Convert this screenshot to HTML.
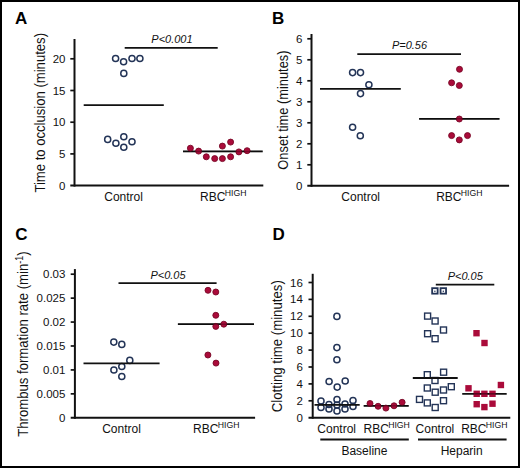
<!DOCTYPE html>
<html><head><meta charset="utf-8"><style>
html,body{margin:0;padding:0;background:#fff;}
body{width:520px;height:468px;overflow:hidden;}
svg{display:block;}
text{font-family:"Liberation Sans",sans-serif;fill:#111;}
.pl{font-size:17px;font-weight:bold;fill:#000;}
.tk{font-size:11.5px;}
.yl{font-size:13px;}
.xl{font-size:12px;}
.sup{font-size:8.7px;}
.sup2{font-size:9px;}
.pv{font-size:11px;font-style:italic;}
</style></head><body>
<svg width="520" height="468" viewBox="0 0 520 468">
<rect x="0" y="0" width="520" height="468" fill="#fff"/>
<text x="15" y="23.8" class="pl">A</text>
<line x1="74.5" y1="39" x2="74.5" y2="186.6" stroke="#111" stroke-width="2"/>
<line x1="70.3" y1="185.6" x2="263.3" y2="185.6" stroke="#111" stroke-width="2"/>
<line x1="70.3" y1="153.9" x2="74.5" y2="153.9" stroke="#111" stroke-width="1.7"/>
<text x="65.5" y="157.9" text-anchor="end" class="tk">5</text>
<line x1="70.3" y1="122.2" x2="74.5" y2="122.2" stroke="#111" stroke-width="1.7"/>
<text x="65.5" y="126.2" text-anchor="end" class="tk">10</text>
<line x1="70.3" y1="90.5" x2="74.5" y2="90.5" stroke="#111" stroke-width="1.7"/>
<text x="65.5" y="94.5" text-anchor="end" class="tk">15</text>
<line x1="70.3" y1="58.8" x2="74.5" y2="58.8" stroke="#111" stroke-width="1.7"/>
<text x="65.5" y="62.8" text-anchor="end" class="tk">20</text>
<text x="65.5" y="189.6" text-anchor="end" class="tk">0</text>
<text transform="translate(44.6,112.8) rotate(-90) scale(1,1.17)" text-anchor="middle" class="yl" style="font-size:13.1px">Time to occlusion (minutes)</text>
<circle cx="115.6" cy="58.5" r="3.05" fill="none" stroke="#233457" stroke-width="1.5"/>
<circle cx="123.6" cy="61.8" r="3.05" fill="none" stroke="#233457" stroke-width="1.5"/>
<circle cx="132" cy="58.5" r="3.05" fill="none" stroke="#233457" stroke-width="1.5"/>
<circle cx="139.9" cy="58.5" r="3.05" fill="none" stroke="#233457" stroke-width="1.5"/>
<circle cx="123.8" cy="73.4" r="3.05" fill="none" stroke="#233457" stroke-width="1.5"/>
<circle cx="107.7" cy="139.4" r="3.05" fill="none" stroke="#233457" stroke-width="1.5"/>
<circle cx="115.9" cy="143.3" r="3.05" fill="none" stroke="#233457" stroke-width="1.5"/>
<circle cx="123.8" cy="136.7" r="3.05" fill="none" stroke="#233457" stroke-width="1.5"/>
<circle cx="123.8" cy="147.3" r="3.05" fill="none" stroke="#233457" stroke-width="1.5"/>
<circle cx="132" cy="141.8" r="3.05" fill="none" stroke="#233457" stroke-width="1.5"/>
<line x1="83.7" y1="105.1" x2="163.8" y2="105.1" stroke="#111" stroke-width="1.8"/>
<line x1="183" y1="151.4" x2="262.7" y2="151.4" stroke="#111" stroke-width="1.8"/>
<circle cx="190.4" cy="148.2" r="3.0" fill="#aa0b3a" stroke="#780826" stroke-width="0.9"/>
<circle cx="198.6" cy="151.1" r="3.0" fill="#aa0b3a" stroke="#780826" stroke-width="0.9"/>
<circle cx="206.3" cy="156.8" r="3.0" fill="#aa0b3a" stroke="#780826" stroke-width="0.9"/>
<circle cx="214.7" cy="158.6" r="3.0" fill="#aa0b3a" stroke="#780826" stroke-width="0.9"/>
<circle cx="222.4" cy="158.6" r="3.0" fill="#aa0b3a" stroke="#780826" stroke-width="0.9"/>
<circle cx="222.4" cy="146.1" r="3.0" fill="#aa0b3a" stroke="#780826" stroke-width="0.9"/>
<circle cx="230.6" cy="142.1" r="3.0" fill="#aa0b3a" stroke="#780826" stroke-width="0.9"/>
<circle cx="230.6" cy="156.8" r="3.0" fill="#aa0b3a" stroke="#780826" stroke-width="0.9"/>
<circle cx="238.9" cy="151.9" r="3.0" fill="#aa0b3a" stroke="#780826" stroke-width="0.9"/>
<circle cx="247.1" cy="150.7" r="3.0" fill="#aa0b3a" stroke="#780826" stroke-width="0.9"/>
<line x1="124.7" y1="47.8" x2="217.7" y2="47.8" stroke="#111" stroke-width="1.8"/>
<text x="151.3" y="43.1" class="pv">P&lt;0.001</text>
<text x="123.6" y="200.8" text-anchor="middle" class="xl">Control</text>
<text x="200.1" y="200.6" class="xl">RBC<tspan class="sup" dx="-0.7" dy="-4.5">HIGH</tspan></text>
<text x="271.9" y="24" class="pl">B</text>
<line x1="311.5" y1="34" x2="311.5" y2="186.8" stroke="#111" stroke-width="2"/>
<line x1="307.3" y1="185.8" x2="509.1" y2="185.8" stroke="#111" stroke-width="2"/>
<line x1="307.3" y1="38.8" x2="311.5" y2="38.8" stroke="#111" stroke-width="1.7"/>
<text x="302.5" y="42.8" text-anchor="end" class="tk">6</text>
<line x1="307.3" y1="59.8" x2="311.5" y2="59.8" stroke="#111" stroke-width="1.7"/>
<text x="302.5" y="63.8" text-anchor="end" class="tk">5</text>
<line x1="307.3" y1="80.8" x2="311.5" y2="80.8" stroke="#111" stroke-width="1.7"/>
<text x="302.5" y="84.8" text-anchor="end" class="tk">4</text>
<line x1="307.3" y1="101.8" x2="311.5" y2="101.8" stroke="#111" stroke-width="1.7"/>
<text x="302.5" y="105.8" text-anchor="end" class="tk">3</text>
<line x1="307.3" y1="122.8" x2="311.5" y2="122.8" stroke="#111" stroke-width="1.7"/>
<text x="302.5" y="126.8" text-anchor="end" class="tk">3</text>
<line x1="307.3" y1="143.8" x2="311.5" y2="143.8" stroke="#111" stroke-width="1.7"/>
<text x="302.5" y="147.8" text-anchor="end" class="tk">2</text>
<line x1="307.3" y1="164.8" x2="311.5" y2="164.8" stroke="#111" stroke-width="1.7"/>
<text x="302.5" y="168.8" text-anchor="end" class="tk">1</text>
<text x="302.5" y="189.8" text-anchor="end" class="tk">0</text>
<text transform="translate(288,110.1) rotate(-90) scale(1,1.17)" text-anchor="middle" class="yl" style="font-size:12.85px">Onset time (minutes)</text>
<circle cx="352.6" cy="72.6" r="3.05" fill="none" stroke="#233457" stroke-width="1.5"/>
<circle cx="360.5" cy="72.6" r="3.05" fill="none" stroke="#233457" stroke-width="1.5"/>
<circle cx="368.9" cy="84.8" r="3.05" fill="none" stroke="#233457" stroke-width="1.5"/>
<circle cx="360.5" cy="93.6" r="3.05" fill="none" stroke="#233457" stroke-width="1.5"/>
<circle cx="352.6" cy="127.2" r="3.05" fill="none" stroke="#233457" stroke-width="1.5"/>
<circle cx="360.3" cy="135.7" r="3.05" fill="none" stroke="#233457" stroke-width="1.5"/>
<line x1="320" y1="88.9" x2="400.8" y2="88.9" stroke="#111" stroke-width="1.8"/>
<line x1="419.1" y1="118.8" x2="499.5" y2="118.8" stroke="#111" stroke-width="1.8"/>
<circle cx="459.5" cy="69.3" r="3.0" fill="#aa0b3a" stroke="#780826" stroke-width="0.9"/>
<circle cx="451.6" cy="82.8" r="3.0" fill="#aa0b3a" stroke="#780826" stroke-width="0.9"/>
<circle cx="459.3" cy="85.5" r="3.0" fill="#aa0b3a" stroke="#780826" stroke-width="0.9"/>
<circle cx="459.3" cy="119" r="3.0" fill="#aa0b3a" stroke="#780826" stroke-width="0.9"/>
<circle cx="451.6" cy="135.6" r="3.0" fill="#aa0b3a" stroke="#780826" stroke-width="0.9"/>
<circle cx="459.3" cy="139.9" r="3.0" fill="#aa0b3a" stroke="#780826" stroke-width="0.9"/>
<circle cx="467.5" cy="135.6" r="3.0" fill="#aa0b3a" stroke="#780826" stroke-width="0.9"/>
<line x1="357.3" y1="54.1" x2="461" y2="54.1" stroke="#111" stroke-width="1.8"/>
<text x="391.9" y="48.9" class="pv">P=0.56</text>
<text x="360.7" y="200.9" text-anchor="middle" class="xl">Control</text>
<text x="436.2" y="200.7" class="xl">RBC<tspan class="sup" dx="-0.7" dy="-4.5">HIGH</tspan></text>
<text x="15.2" y="240" class="pl">C</text>
<line x1="74.9" y1="269.1" x2="74.9" y2="418.8" stroke="#111" stroke-width="2"/>
<line x1="70.7" y1="417.8" x2="255.1" y2="417.8" stroke="#111" stroke-width="2"/>
<line x1="70.7" y1="274.2" x2="74.9" y2="274.2" stroke="#111" stroke-width="1.7"/>
<text x="65.4" y="278.2" text-anchor="end" class="tk">0.03</text>
<line x1="70.7" y1="298.13" x2="74.9" y2="298.13" stroke="#111" stroke-width="1.7"/>
<text x="65.4" y="302.13" text-anchor="end" class="tk">0.025</text>
<line x1="70.7" y1="322.06" x2="74.9" y2="322.06" stroke="#111" stroke-width="1.7"/>
<text x="65.4" y="326.06" text-anchor="end" class="tk">0.02</text>
<line x1="70.7" y1="345.99" x2="74.9" y2="345.99" stroke="#111" stroke-width="1.7"/>
<text x="65.4" y="349.99" text-anchor="end" class="tk">0.015</text>
<line x1="70.7" y1="369.91999999999996" x2="74.9" y2="369.91999999999996" stroke="#111" stroke-width="1.7"/>
<text x="65.4" y="373.91999999999996" text-anchor="end" class="tk">0.01</text>
<line x1="70.7" y1="393.85" x2="74.9" y2="393.85" stroke="#111" stroke-width="1.7"/>
<text x="65.4" y="397.85" text-anchor="end" class="tk">0.005</text>
<text x="65.4" y="421.8" text-anchor="end" class="tk">0</text>
<text transform="translate(28.1,344.1) rotate(-90) scale(1,1.17)" text-anchor="middle" class="yl" style="font-size:13.15px">Thrombus formation rate (min<tspan class="sup2" dy="-4.5">-1</tspan><tspan dy="4.5">)</tspan></text>
<circle cx="113.8" cy="342.1" r="3.05" fill="none" stroke="#233457" stroke-width="1.5"/>
<circle cx="121.8" cy="344.4" r="3.05" fill="none" stroke="#233457" stroke-width="1.5"/>
<circle cx="129.8" cy="360.4" r="3.05" fill="none" stroke="#233457" stroke-width="1.5"/>
<circle cx="121.8" cy="366.5" r="3.05" fill="none" stroke="#233457" stroke-width="1.5"/>
<circle cx="113.9" cy="370" r="3.05" fill="none" stroke="#233457" stroke-width="1.5"/>
<circle cx="121.8" cy="376.5" r="3.05" fill="none" stroke="#233457" stroke-width="1.5"/>
<line x1="83.5" y1="363.3" x2="159.6" y2="363.3" stroke="#111" stroke-width="1.8"/>
<line x1="177.9" y1="324.2" x2="254" y2="324.2" stroke="#111" stroke-width="1.8"/>
<circle cx="208" cy="290.3" r="3.0" fill="#aa0b3a" stroke="#780826" stroke-width="0.9"/>
<circle cx="215.8" cy="292" r="3.0" fill="#aa0b3a" stroke="#780826" stroke-width="0.9"/>
<circle cx="215.8" cy="315.3" r="3.0" fill="#aa0b3a" stroke="#780826" stroke-width="0.9"/>
<circle cx="215.8" cy="326.4" r="3.0" fill="#aa0b3a" stroke="#780826" stroke-width="0.9"/>
<circle cx="223.8" cy="324.2" r="3.0" fill="#aa0b3a" stroke="#780826" stroke-width="0.9"/>
<circle cx="207.9" cy="355" r="3.0" fill="#aa0b3a" stroke="#780826" stroke-width="0.9"/>
<circle cx="216" cy="363.1" r="3.0" fill="#aa0b3a" stroke="#780826" stroke-width="0.9"/>
<line x1="118.5" y1="283.1" x2="216.6" y2="283.1" stroke="#111" stroke-width="1.8"/>
<text x="150.4" y="278.8" class="pv">P&lt;0.05</text>
<text x="121.5" y="432.6" text-anchor="middle" class="xl">Control</text>
<text x="193.1" y="432.7" class="xl">RBC<tspan class="sup" dx="-0.7" dy="-4.5">HIGH</tspan></text>
<text x="272.4" y="239.6" class="pl">D</text>
<line x1="312.7" y1="273.8" x2="312.7" y2="418.7" stroke="#111" stroke-width="2"/>
<line x1="308.5" y1="417.7" x2="510.3" y2="417.7" stroke="#111" stroke-width="2"/>
<line x1="308.5" y1="400.8" x2="312.7" y2="400.8" stroke="#111" stroke-width="1.7"/>
<text x="302.9" y="404.8" text-anchor="end" class="tk">2</text>
<line x1="308.5" y1="383.9" x2="312.7" y2="383.9" stroke="#111" stroke-width="1.7"/>
<text x="302.9" y="387.9" text-anchor="end" class="tk">4</text>
<line x1="308.5" y1="367.0" x2="312.7" y2="367.0" stroke="#111" stroke-width="1.7"/>
<text x="302.9" y="371.0" text-anchor="end" class="tk">6</text>
<line x1="308.5" y1="350.1" x2="312.7" y2="350.1" stroke="#111" stroke-width="1.7"/>
<text x="302.9" y="354.1" text-anchor="end" class="tk">8</text>
<line x1="308.5" y1="333.2" x2="312.7" y2="333.2" stroke="#111" stroke-width="1.7"/>
<text x="302.9" y="337.2" text-anchor="end" class="tk">10</text>
<line x1="308.5" y1="316.3" x2="312.7" y2="316.3" stroke="#111" stroke-width="1.7"/>
<text x="302.9" y="320.3" text-anchor="end" class="tk">12</text>
<line x1="308.5" y1="299.4" x2="312.7" y2="299.4" stroke="#111" stroke-width="1.7"/>
<text x="302.9" y="303.4" text-anchor="end" class="tk">14</text>
<line x1="308.5" y1="282.5" x2="312.7" y2="282.5" stroke="#111" stroke-width="1.7"/>
<text x="302.9" y="286.5" text-anchor="end" class="tk">16</text>
<text x="302.9" y="421.7" text-anchor="end" class="tk">0</text>
<text transform="translate(282.4,346.2) rotate(-90) scale(1,1.17)" text-anchor="middle" class="yl" style="font-size:13.2px">Clotting time (minutes)</text>
<circle cx="336.9" cy="316.4" r="3.05" fill="none" stroke="#233457" stroke-width="1.5"/>
<circle cx="336.9" cy="347.6" r="3.05" fill="none" stroke="#233457" stroke-width="1.5"/>
<circle cx="336.9" cy="359.7" r="3.05" fill="none" stroke="#233457" stroke-width="1.5"/>
<circle cx="329.1" cy="381.5" r="3.05" fill="none" stroke="#233457" stroke-width="1.5"/>
<circle cx="337.2" cy="387.1" r="3.05" fill="none" stroke="#233457" stroke-width="1.5"/>
<circle cx="345.2" cy="381" r="3.05" fill="none" stroke="#233457" stroke-width="1.5"/>
<circle cx="321" cy="401" r="3.05" fill="none" stroke="#233457" stroke-width="1.5"/>
<circle cx="321" cy="407.5" r="3.05" fill="none" stroke="#233457" stroke-width="1.5"/>
<circle cx="329" cy="404.5" r="3.05" fill="none" stroke="#233457" stroke-width="1.5"/>
<circle cx="329" cy="409" r="3.05" fill="none" stroke="#233457" stroke-width="1.5"/>
<circle cx="337" cy="399.5" r="3.05" fill="none" stroke="#233457" stroke-width="1.5"/>
<circle cx="337" cy="405" r="3.05" fill="none" stroke="#233457" stroke-width="1.5"/>
<circle cx="337" cy="411" r="3.05" fill="none" stroke="#233457" stroke-width="1.5"/>
<circle cx="345" cy="404" r="3.05" fill="none" stroke="#233457" stroke-width="1.5"/>
<circle cx="345" cy="409" r="3.05" fill="none" stroke="#233457" stroke-width="1.5"/>
<circle cx="353" cy="400.5" r="3.05" fill="none" stroke="#233457" stroke-width="1.5"/>
<circle cx="353" cy="406.5" r="3.05" fill="none" stroke="#233457" stroke-width="1.5"/>
<line x1="314.5" y1="404.8" x2="359.7" y2="404.8" stroke="#111" stroke-width="1.8"/>
<line x1="363.7" y1="405.8" x2="408.7" y2="405.8" stroke="#111" stroke-width="1.8"/>
<circle cx="370" cy="403.5" r="3.0" fill="#aa0b3a" stroke="#780826" stroke-width="0.9"/>
<circle cx="378.1" cy="406.3" r="3.0" fill="#aa0b3a" stroke="#780826" stroke-width="0.9"/>
<circle cx="385.9" cy="408.1" r="3.0" fill="#aa0b3a" stroke="#780826" stroke-width="0.9"/>
<circle cx="394" cy="405.8" r="3.0" fill="#aa0b3a" stroke="#780826" stroke-width="0.9"/>
<circle cx="402.1" cy="402.3" r="3.0" fill="#aa0b3a" stroke="#780826" stroke-width="0.9"/>
<rect x="424.6" y="313.1" width="6.0" height="6.0" fill="none" stroke="#233457" stroke-width="1.4"/>
<rect x="432.1" y="318.0" width="6.0" height="6.0" fill="none" stroke="#233457" stroke-width="1.4"/>
<rect x="440.5" y="327.0" width="6.0" height="6.0" fill="none" stroke="#233457" stroke-width="1.4"/>
<rect x="424.6" y="330.7" width="6.0" height="6.0" fill="none" stroke="#233457" stroke-width="1.4"/>
<rect x="432.1" y="335.7" width="6.0" height="6.0" fill="none" stroke="#233457" stroke-width="1.4"/>
<rect x="440.6" y="369.2" width="6.0" height="6.0" fill="none" stroke="#233457" stroke-width="1.4"/>
<rect x="424.3" y="371.7" width="6.0" height="6.0" fill="none" stroke="#233457" stroke-width="1.4"/>
<rect x="432.0" y="377.5" width="6.0" height="6.0" fill="none" stroke="#233457" stroke-width="1.4"/>
<rect x="448.3" y="383.7" width="6.0" height="6.0" fill="none" stroke="#233457" stroke-width="1.4"/>
<rect x="424.3" y="385.0" width="6.0" height="6.0" fill="none" stroke="#233457" stroke-width="1.4"/>
<rect x="440.5" y="387.0" width="6.0" height="6.0" fill="none" stroke="#233457" stroke-width="1.4"/>
<rect x="432.2" y="389.2" width="6.0" height="6.0" fill="none" stroke="#233457" stroke-width="1.4"/>
<rect x="416.5" y="396.4" width="6.0" height="6.0" fill="none" stroke="#233457" stroke-width="1.4"/>
<rect x="440.5" y="397.7" width="6.0" height="6.0" fill="none" stroke="#233457" stroke-width="1.4"/>
<rect x="424.3" y="399.9" width="6.0" height="6.0" fill="none" stroke="#233457" stroke-width="1.4"/>
<rect x="432.2" y="404.5" width="6.0" height="6.0" fill="none" stroke="#233457" stroke-width="1.4"/>
<rect x="432.15" y="288.15" width="5.5" height="5.5" fill="#fff" stroke="#233457" stroke-width="1.8"/>
<circle cx="434.9" cy="291.3" r="0.75" fill="#233457"/>
<rect x="440.55" y="288.15" width="5.5" height="5.5" fill="#fff" stroke="#233457" stroke-width="1.8"/>
<circle cx="443.3" cy="291.3" r="0.75" fill="#233457"/>
<line x1="412.8" y1="378" x2="457.7" y2="378" stroke="#111" stroke-width="1.8"/>
<line x1="462.2" y1="393.8" x2="506.7" y2="393.8" stroke="#111" stroke-width="1.8"/>
<rect x="473.3" y="330.0" width="6.4" height="6.4" fill="#aa0b3a"/>
<rect x="481.3" y="339.8" width="6.4" height="6.4" fill="#aa0b3a"/>
<rect x="465.3" y="385.1" width="6.4" height="6.4" fill="#aa0b3a"/>
<rect x="497.7" y="381.8" width="6.4" height="6.4" fill="#aa0b3a"/>
<rect x="473.5" y="390.6" width="6.4" height="6.4" fill="#aa0b3a"/>
<rect x="481.2" y="390.6" width="6.4" height="6.4" fill="#aa0b3a"/>
<rect x="489.3" y="390.6" width="6.4" height="6.4" fill="#aa0b3a"/>
<rect x="473.5" y="401.0" width="6.4" height="6.4" fill="#aa0b3a"/>
<rect x="481.2" y="403.90000000000003" width="6.4" height="6.4" fill="#aa0b3a"/>
<rect x="489.3" y="400.5" width="6.4" height="6.4" fill="#aa0b3a"/>
<line x1="473" y1="393.8" x2="496" y2="393.8" stroke="#000" stroke-width="1.6" opacity="0.45"/>
<line x1="435.8" y1="284.6" x2="494.3" y2="284.6" stroke="#111" stroke-width="1.8"/>
<text x="447.7" y="280" class="pv">P&lt;0.05</text>
<text x="336.7" y="432.6" text-anchor="middle" class="xl">Control</text>
<text x="363.5" y="432.6" class="xl">RBC<tspan class="sup" dx="-0.7" dy="-4.5">HIGH</tspan></text>
<text x="434.9" y="432.6" text-anchor="middle" class="xl">Control</text>
<text x="461.2" y="432.6" class="xl">RBC<tspan class="sup" dx="-0.7" dy="-4.5">HIGH</tspan></text>
<line x1="320.3" y1="439.5" x2="408.8" y2="439.5" stroke="#111" stroke-width="1.8"/>
<line x1="418" y1="439.5" x2="506.6" y2="439.5" stroke="#111" stroke-width="1.8"/>
<text x="364.4" y="454.8" text-anchor="middle" class="xl">Baseline</text>
<text x="461.7" y="454.8" text-anchor="middle" class="xl">Heparin</text>
<line x1="183" y1="151.4" x2="262.7" y2="151.4" stroke="#000" stroke-width="1.5" opacity="0.28"/>
<line x1="419.1" y1="118.8" x2="499.5" y2="118.8" stroke="#000" stroke-width="1.5" opacity="0.28"/>
<line x1="177.9" y1="324.2" x2="254" y2="324.2" stroke="#000" stroke-width="1.5" opacity="0.28"/>
<line x1="363.7" y1="405.8" x2="408.7" y2="405.8" stroke="#000" stroke-width="1.5" opacity="0.28"/>
<rect x="1" y="1" width="518" height="466" fill="none" stroke="#000" stroke-width="2"/>
</svg>
</body></html>
